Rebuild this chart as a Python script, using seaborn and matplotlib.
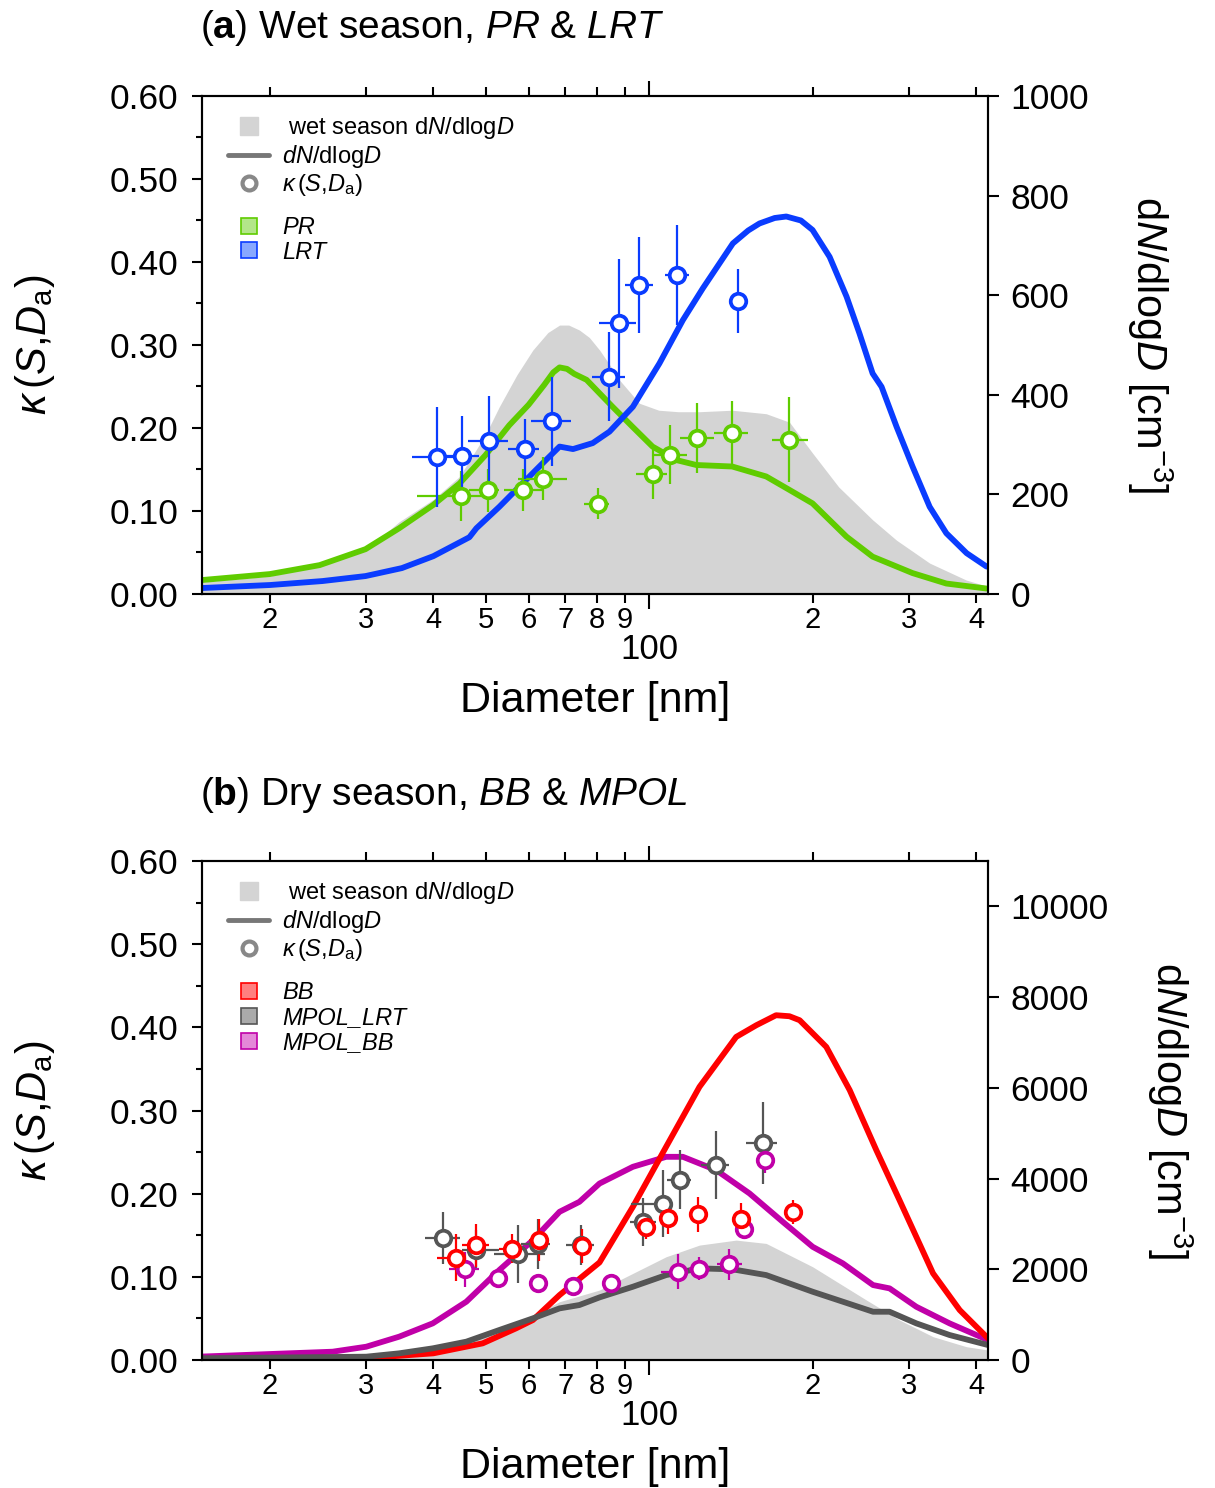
import numpy as np
import matplotlib
matplotlib.use("Agg")
import matplotlib.pyplot as plt
from matplotlib.lines import Line2D
from matplotlib.ticker import FixedLocator, FuncFormatter, MultipleLocator
import seaborn as sns

sns.set_style("ticks")
plt.rcParams['font.family'] = ['Liberation Sans', 'DejaVu Sans']
plt.rcParams['mathtext.fontset'] = 'custom'
plt.rcParams['mathtext.rm'] = 'Liberation Sans'
plt.rcParams['mathtext.it'] = 'Liberation Sans:italic'
plt.rcParams['mathtext.bf'] = 'Liberation Sans:bold'
for key in ['text.color', 'axes.labelcolor', 'xtick.color', 'ytick.color', 'axes.edgecolor']:
    plt.rcParams[key] = 'black'

# ---- panel (a): wet season size distributions (dN/dlogD, cm-3)
wet_a_d = [15, 20, 25, 30, 34.6, 40, 44.7, 49.9, 52.9, 57, 61, 65, 68.3, 71, 74.3, 77.5, 80.9,
           84.5, 88, 95.8, 104, 113, 123.6, 142, 164, 181, 199.6, 223, 257.5, 285, 328, 383, 420]
wet_a_n = [24, 36, 58, 88, 145, 190, 236, 320, 376, 440, 490, 525, 540, 540, 530, 515, 490,
           460, 430, 383, 369, 366, 366, 369, 362, 345, 283, 215, 149, 108, 62, 28, 15]
pr_line_d = [15, 20, 24.7, 30, 34.6, 40, 44.7, 49.9, 55.2, 59.9, 64, 66.5, 68.3, 70.5, 72.7,
             76.6, 85.5, 93, 101.3, 112, 122, 142, 164, 181, 199.6, 230.6, 257.5, 305, 352, 417]
pr_line_n = [28, 40, 58, 90, 132, 179, 222, 279, 339, 380, 420, 445, 455, 452, 442,
             430, 376, 336, 296, 269, 259, 256, 236, 209, 182, 115, 75, 42, 21, 11]
lrt_line_d = [15, 20, 25, 30, 35, 40, 46.6, 48, 52.9, 56.8, 62.7, 68.3, 72.3, 78.6, 84.4, 93.2,
              104.3, 115.2, 125.4, 142.4, 152, 159.4, 170, 178.6, 190, 199.6, 214.6, 230.6, 243.6,
              257.5, 267.5, 285, 305, 328, 352, 383.6, 417.5]
lrt_line_n = [12, 18, 26, 36, 52, 76, 114, 132, 175, 209, 256, 296, 291, 303, 326, 376,
              463, 550, 614, 704, 730, 744, 755, 758, 750, 731, 677, 597, 523,
              443, 416, 336, 256, 175, 122, 82, 55]

# ---- panel (a): kappa points
pr_d = [45.0, 50.4, 58.6, 63.6, 80.3, 101.4, 109.2, 122.5, 141.8, 181.0]
pr_dlo = [37.3, 46.6, 54.0, 57.2, 75.9, 94.6, 101.3, 113.6, 131.7, 167.8]
pr_dhi = [49.3, 52.9, 64.0, 70.4, 84.4, 107.9, 117.0, 131.7, 152.0, 195.5]
pr_k = [0.118, 0.125, 0.125, 0.139, 0.109, 0.145, 0.168, 0.188, 0.194, 0.186]
pr_kerr = [0.030, 0.026, 0.025, 0.026, 0.019, 0.030, 0.036, 0.042, 0.039, 0.051]

lrt_d = [40.6, 45.1, 50.6, 58.9, 66.1, 84.1, 87.8, 95.6, 112.5, 145.8]
lrt_dlo = [36.6, 42.2, 46.4, 55.0, 60.5, 78.4, 80.9, 90.3, 106.6, 140.4]
lrt_dhi = [43.7, 48.6, 55.0, 62.7, 71.7, 90.3, 94.6, 101.7, 118.0, 151.5]
lrt_k = [0.165, 0.166, 0.184, 0.175, 0.208, 0.262, 0.326, 0.372, 0.384, 0.353]
lrt_kerr = [0.060, 0.048, 0.054, 0.036, 0.054, 0.054, 0.078, 0.058, 0.060, 0.038]

# ---- panel (b): dry season size distributions
wet_b_d = [14.8, 30.1, 39.9, 46, 52.9, 61, 68.3, 80.9, 107.3, 123.6, 144.4, 164, 199.7,
           250.8, 288.6, 332.7, 383.3, 420]
wet_b_n = [50, 80, 260, 404, 661, 991, 1285, 1542, 2276, 2533, 2643, 2570, 2055,
           1322, 881, 514, 293, 220]
bb_line_d = [15, 30, 40, 49.3, 56.8, 61, 68.3, 80.9, 93.2, 107.3, 123.6, 144.4, 157.3, 171,
             181, 189, 211.6, 233.7, 261.6, 288.6, 332.7, 372.5, 420]
bb_line_n = [10, 40, 147, 367, 698, 881, 1432, 2150, 3377, 4700, 6021, 7122, 7380, 7600,
             7578, 7490, 6902, 5948, 4626, 3524, 1910, 1101, 478]
mlrt_line_d = [14.8, 30.1, 34.6, 39.9, 46, 52.9, 61, 68.3, 74.3, 80.9, 93.2, 107.3, 123.6,
               142.4, 164, 199.7, 227, 258, 276.7, 309.9, 356.8, 420]
mlrt_line_n = [37, 73, 147, 257, 404, 661, 918, 1138, 1212, 1380, 1615, 1872, 2020,
               1998, 1872, 1505, 1285, 1064, 1064, 808, 551, 330]
mbb_line_d = [14.8, 26.1, 30.1, 34.6, 39.9, 46, 52.9, 61, 68.3, 74.3, 80.9, 93.2, 107.3,
              115.2, 132.7, 152.8, 175.9, 199.7, 227, 258, 276.7, 309.9, 356.8, 420]
mbb_line_n = [73, 183, 293, 514, 808, 1285, 1983, 2643, 3267, 3487, 3890, 4259, 4479,
              4479, 4185, 3672, 3047, 2496, 2130, 1652, 1579, 1174, 808, 440]

# ---- panel (b): kappa points
mlrt_d = [41.6, 48.0, 57.3, 62.3, 74.8, 97.2, 105.8, 114.0, 132.3, 161.7]
mlrt_dlo = [38.6, 45.2, 51.8, 57.9, 70.3, 91.9, 92.5, 107.9, 124.5, 150.5]
mlrt_dhi = [44.7, 52.9, 64.1, 65.5, 79.2, 102.9, 109.6, 119.3, 140.0, 171.7]
mlrt_k = [0.147, 0.132, 0.127, 0.140, 0.138, 0.166, 0.188, 0.217, 0.234, 0.261]
mlrt_kerr = [0.031, 0.024, 0.035, 0.030, 0.024, 0.029, 0.040, 0.035, 0.041, 0.049]

mbb_d = [45.8, 52.7, 62.3, 72.2, 85.0, 112.8, 123.6, 140.0, 149.0, 163.4]
mbb_dlo = [42.8, 52.7, 62.3, 72.2, 85.0, 105.1, 118.0, 133.0, 149.0, 163.4]
mbb_dhi = [48.6, 52.7, 62.3, 72.2, 85.0, 117.5, 129.0, 148.0, 149.0, 163.4]
mbb_k = [0.109, 0.098, 0.092, 0.089, 0.092, 0.106, 0.110, 0.115, 0.158, 0.240]
mbb_kerr = [0.021, 0.0, 0.0, 0.0, 0.010, 0.021, 0.014, 0.019, 0.008, 0.015]

bb_d = [44.1, 47.9, 55.8, 62.5, 75.2, 98.6, 108.1, 122.7, 147.5, 183.6]
bb_dlo = [40.7, 45.2, 52.9, 60.1, 75.2, 98.6, 108.1, 122.7, 147.5, 183.6]
bb_dhi = [45.9, 50.7, 58.9, 64.9, 75.2, 98.6, 108.1, 122.7, 147.5, 183.6]
bb_k = [0.123, 0.138, 0.134, 0.144, 0.137, 0.160, 0.171, 0.175, 0.170, 0.178]
bb_kerr = [0.028, 0.026, 0.017, 0.025, 0.020, 0.014, 0.020, 0.021, 0.019, 0.014]

GREEN, BLUE = '#5fcc00', '#0a3cff'
RED, DGRAY, MAG = '#ff0000', '#555555', '#c000a8'
FILL = '#d4d4d4'

fig = plt.figure(figsize=(12.15, 14.88), dpi=100)


def minor_fmt(v, pos):
    return str(int(round(v / 10 ** np.floor(np.log10(v)))))


def setup(ax, ax2, nmax, nstep):
    # ax holds dN/dlogD (right side), ax2 holds kappa (left side)
    ax.set_xscale('log')
    ax.set_xlim(15, 420)
    ax.set_ylim(0, nmax)
    ax2.set_ylim(0, 0.6)
    ax.yaxis.tick_right()
    ax.yaxis.set_label_position('right')
    ax2.yaxis.tick_left()
    ax2.yaxis.set_label_position('left')
    ax.xaxis.set_major_locator(FixedLocator([100]))
    ax.xaxis.set_minor_locator(FixedLocator([20, 30, 40, 50, 60, 70, 80, 90, 200, 300, 400]))
    ax.xaxis.set_major_formatter(FuncFormatter(lambda v, p: '100'))
    ax.xaxis.set_minor_formatter(FuncFormatter(minor_fmt))
    ax.tick_params(axis='x', which='major', direction='out', length=11, width=1.5,
                   pad=17, labelsize=25, top=True)
    ax.tick_params(axis='x', which='minor', direction='out', length=6.5, width=1.5,
                   pad=2, labelsize=21, top=True)
    ax.yaxis.set_major_locator(MultipleLocator(nstep))
    ax.tick_params(axis='y', which='major', direction='out', length=8, width=1.5,
                   pad=8, labelsize=25.5)
    ax2.yaxis.set_major_locator(MultipleLocator(0.1))
    ax2.yaxis.set_minor_locator(MultipleLocator(0.05))
    ax2.yaxis.set_major_formatter(FuncFormatter(lambda v, p: f'{v:.2f}'))
    ax2.tick_params(axis='y', which='major', direction='out', length=7, width=1.5,
                    pad=10, labelsize=25.5)
    ax2.tick_params(axis='y', which='minor', direction='out', length=4, width=1.5)
    for a in (ax, ax2):
        for s in a.spines.values():
            s.set_linewidth(1.5)
            s.set_color('black')
            s.set_visible(True)
    ax.set_xlabel('Diameter [nm]', fontsize=31)
    ax.xaxis.set_label_coords(0.5, -0.175)
    ax2.set_ylabel(r'$\kappa\,(S$,$D_\mathrm{a})$', fontsize=30)
    ax2.yaxis.set_label_coords(-0.185, 0.5)
    ax.set_ylabel(r'd$\it{N}$/dlog$\it{D}$ [cm$^{-3}$]', fontsize=30, rotation=270, va='bottom')


def points(ax2, d, dlo, dhi, k, kerr, color):
    d = np.array(d)
    xerr = [d - np.array(dlo), np.array(dhi) - d]
    ax2.errorbar(d, k, yerr=kerr, xerr=xerr, fmt='none', ecolor=color,
                 elinewidth=1.6, capsize=0, zorder=2)
    sns.scatterplot(x=d, y=k, ax=ax2, s=125, marker='o', facecolor='white',
                    edgecolor=color, linewidth=2.7, zorder=3, legend=False)


def legends(ax, names, fcols, ecols):
    fs = 17
    h = [Line2D([], [], marker='s', ms=13, mfc=FILL, mec=FILL, ls='none'),
         Line2D([], [], color='#777777', lw=3.5),
         Line2D([], [], marker='o', ms=10, mfc='white', mec='#888888', mew=3, ls='none')]
    lab = [r' wet season d$\it{N}$/dlog$\it{D}$', r'$\it{dN}$/dlog$\it{D}$',
           r'$\kappa\,(S$,$D_\mathrm{a})$']
    leg1 = ax.legend(h, lab, loc='upper left', bbox_to_anchor=(0.018, 0.985), frameon=False,
                     borderpad=0, handlelength=1.75, handletextpad=0.55, labelspacing=0.08,
                     fontsize=fs)
    ax.add_artist(leg1)
    h2 = [Line2D([], [], marker='s', ms=11, mfc=f, mec=e, mew=1.2, ls='none')
          for f, e in zip(fcols, ecols)]
    ax.legend(h2, names, loc='upper left', bbox_to_anchor=(0.018, 0.783), frameon=False,
              borderpad=0, handlelength=1.75, handletextpad=0.55, labelspacing=0.08,
              prop={'size': fs, 'style': 'italic'})


# ---------------- panel (a)
axa = fig.add_axes([0.16626, 0.60081, 0.64691, 0.33468])
axa2 = axa.twinx()
axa.fill_between(wet_a_d, wet_a_n, color=FILL, lw=0, zorder=1)
sns.lineplot(x=pr_line_d, y=pr_line_n, ax=axa, color=GREEN, lw=4.2, zorder=2)
sns.lineplot(x=lrt_line_d, y=lrt_line_n, ax=axa, color=BLUE, lw=4.2, zorder=2)
setup(axa, axa2, 1000, 200)
axa.yaxis.set_label_coords(1.174, 0.5)
points(axa2, pr_d, pr_dlo, pr_dhi, pr_k, pr_kerr, GREEN)
points(axa2, lrt_d, lrt_dlo, lrt_dhi, lrt_k, lrt_kerr, BLUE)
legends(axa2, ['PR', 'LRT'], ['#b3e68a', '#88a8ff'], [GREEN, BLUE])
fig.text(200 / 1215, 1 - 28 / 1488, r'($\bf{a}$) Wet season, $\it{PR}$ & $\it{LRT}$',
         fontsize=28, ha='left', va='center')

# ---------------- panel (b)
axb = fig.add_axes([0.16626, 0.08602, 0.64691, 0.33535])
axb2 = axb.twinx()
axb.fill_between(wet_b_d, wet_b_n, color=FILL, lw=0, zorder=1)
sns.lineplot(x=mbb_line_d, y=mbb_line_n, ax=axb, color=MAG, lw=4.2, zorder=2)
sns.lineplot(x=bb_line_d, y=bb_line_n, ax=axb, color=RED, lw=4.2, zorder=2)
sns.lineplot(x=mlrt_line_d, y=mlrt_line_n, ax=axb, color=DGRAY, lw=4.2, zorder=2)
setup(axb, axb2, 11000, 2000)
axb.set_yticks([0, 2000, 4000, 6000, 8000, 10000])
axb.yaxis.set_label_coords(1.20, 0.5)
points(axb2, mlrt_d, mlrt_dlo, mlrt_dhi, mlrt_k, mlrt_kerr, DGRAY)
points(axb2, mbb_d, mbb_dlo, mbb_dhi, mbb_k, mbb_kerr, MAG)
points(axb2, bb_d, bb_dlo, bb_dhi, bb_k, bb_kerr, RED)
legends(axb2, ['BB', 'MPOL_LRT', 'MPOL_BB'], ['#ff8080', '#aaaaaa', '#e488d8'], [RED, DGRAY, MAG])
fig.text(200 / 1215, 1 - 795 / 1488, r'($\bf{b}$) Dry season, $\it{BB}$ & $\it{MPOL}$',
         fontsize=28, ha='left', va='center')

fig.savefig('out.png', dpi=100)
